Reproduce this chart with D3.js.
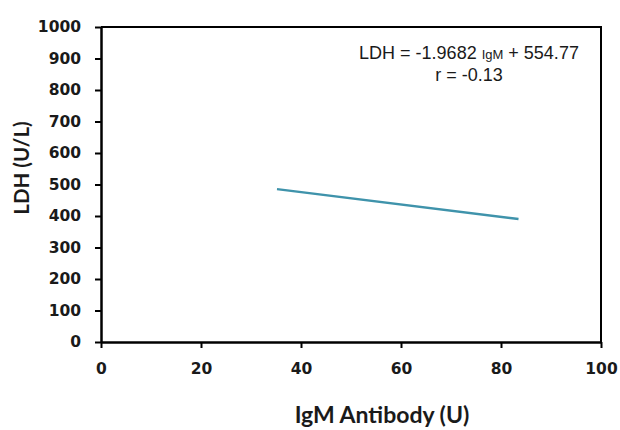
<!DOCTYPE html>
<html><head><meta charset="utf-8">
<script src="https://cdn.jsdelivr.net/npm/d3@7"></script>
<style>body{margin:0;background:#fff}</style>
</head><body>
<svg id="c" width="620" height="430"></svg>
<script>
const xTicks = [0, 20, 40, 60, 80, 100];
const yTicks = [0, 100, 200, 300, 400, 500, 600, 700, 800, 900, 1000];
const slope = -1.9682;
const intercept = 554.77;
const fitRange = [35.2, 83.5];
const fitLine = fitRange.map(x => ({x: x, y: slope * x + intercept}));
const equationText = ["LDH = -1.9682 ", "IgM", " + 554.77"];
const rText = "r = -0.13";
const xTitle = "IgM Antibody (U)";
const yTitle = "LDH (U/L)";

const svg = d3.select("#c");
const L = 101, R = 601, T = 27, B = 342;
const x = d3.scaleLinear().domain([0, 100]).range([L, R]);
const y = d3.scaleLinear().domain([0, 1000]).range([B, T]);
const font = "Lato, 'Open Sans', sans-serif";
const tickFont = "'DejaVu Sans', sans-serif";

svg.append("path").attr("d", `M${L},${T}H${R}V${B}`).attr("fill","none").attr("stroke","#000").attr("stroke-width",2);

const xa = svg.append("g").attr("transform", `translate(0,${B})`)
  .call(d3.axisBottom(x).tickValues(xTicks).tickFormat(d3.format("d")).tickSize(6).tickSizeOuter(0).tickPadding(15));
const ya = svg.append("g").attr("transform", `translate(${L},0)`)
  .call(d3.axisLeft(y).tickValues(yTicks).tickFormat(d3.format("d")).tickSize(6).tickSizeOuter(0).tickPadding(14));
[xa, ya].forEach(a => {
  a.select(".domain").attr("stroke","#000").attr("stroke-width",2.5);
  a.selectAll(".tick line").attr("stroke","#000").attr("stroke-width",2);
  a.selectAll(".tick text").attr("fill","#1a1a1a").style("font-family", tickFont).style("font-weight","bold").style("font-size","15.5px");
});

svg.append("path").datum(fitLine)
  .attr("d", d3.line().x(d => x(d.x)).y(d => y(d.y)))
  .attr("fill","none").attr("stroke","#3f93ab").attr("stroke-width",2.4);

const eq = svg.append("text").attr("x", 469).attr("y", 59).attr("text-anchor","middle")
  .style("font-family","'Liberation Sans', Arial, sans-serif").style("font-size","18px").attr("fill","#1a1a1a");
eq.append("tspan").text(equationText[0]);
eq.append("tspan").text(equationText[1]).style("font-size","13px");
eq.append("tspan").text(equationText[2]);
svg.append("text").attr("x", 469).attr("y", 81).attr("text-anchor","middle")
  .style("font-family","'Liberation Sans', Arial, sans-serif").style("font-size","18px").attr("fill","#1a1a1a").text(rText);

svg.append("text").attr("x", 382).attr("y", 423).attr("text-anchor","middle")
  .style("font-family", font).style("font-weight","bold").style("font-size","23px").attr("fill","#1a1a1a").text(xTitle);
svg.append("text").attr("transform","translate(29,168) rotate(-90)").attr("text-anchor","middle")
  .style("font-family", font).style("font-weight","bold").style("font-size","20.5px").attr("fill","#1a1a1a").text(yTitle);
</script>
</body></html>
